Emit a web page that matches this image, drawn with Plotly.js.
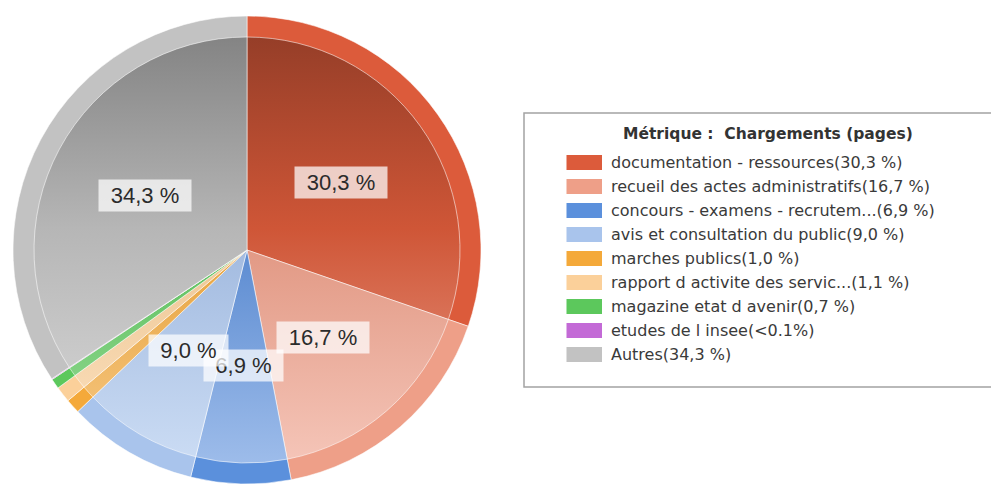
<!DOCTYPE html>
<html>
<head>
<meta charset="utf-8">
<script src="https://cdn.plot.ly/plotly-3.0.1.min.js"></script>
<style>html,body{margin:0;padding:0;background:#fff;overflow:hidden}</style>
</head>
<body>
<div id="chart" style="width:991px;height:484px"></div>
<script>
// ---- data ----
const categories = [
  "documentation - ressources",
  "recueil des actes administratifs",
  "concours - examens - recrutem...",
  "avis et consultation du public",
  "marches publics",
  "rapport d activite des servic...",
  "magazine etat d avenir",
  "etudes de l insee",
  "Autres"
];
const values = [30.3, 16.7, 6.9, 9.0, 1.0, 1.1, 0.7, 0.05, 34.3];
const pctLabels = ["30,3 %", "16,7 %", "6,9 %", "9,0 %", "1,0 %", "1,1 %", "0,7 %", "<0.1%", "34,3 %"];
const colors = ["#dc5b3b", "#ee9f88", "#5b90dc", "#a9c4ec", "#f4a93a", "#fbd09a", "#5cc85c", "#c36ad6", "#c2c2c2"];
const legendTitle = "Métrique :  Chargements (pages)";
const minLabelPct = 5;

// ---- layout constants ----
const W = 991, H = 484;
const CX = 247, CY = 250, R = 234, RIN = 213;

function domainFor(r) {
  return {
    x: [(CX - r) / W, (CX + r) / W],
    y: [(H - CY - r) / H, (H - CY + r) / H]
  };
}
function esc(s) { return s.replace(/</g, "&lt;"); }

const outer = {
  type: "pie", values: values, labels: categories, sort: false,
  direction: "clockwise", rotation: 0, textinfo: "none", hoverinfo: "none",
  marker: { colors: colors, line: { color: "rgba(255,255,255,0.55)", width: 1 } },
  domain: domainFor(R), showlegend: false
};
const inner = {
  type: "pie", values: values, labels: categories, sort: false,
  direction: "clockwise", rotation: 0, textinfo: "none", hoverinfo: "none",
  marker: { colors: colors, line: { color: "rgba(255,255,255,0.55)", width: 1 } },
  domain: domainFor(RIN), showlegend: false
};

// slice labels (from data: angle of each slice midpoint)
const total = values.reduce((a, b) => a + b, 0);
const annotations = [];
let cum = 0;
values.forEach((v, i) => {
  const mid = (cum + v / 2) / total * 2 * Math.PI;
  cum += v;
  if (v / total * 100 < minLabelPct) return;
  const rr = R * 0.495;
  const px = CX + rr * Math.sin(mid);
  const py = CY - rr * Math.cos(mid);
  annotations.push({
    xref: "paper", yref: "paper", x: px / W, y: 1 - py / H,
    xanchor: "center", yanchor: "middle", showarrow: false,
    text: esc(pctLabels[i]),
    font: { family: "Liberation Sans, Arial, sans-serif", size: 22, color: "#2b2b2b" },
    bgcolor: "rgba(255,255,255,0.72)", borderpad: 0,
    width: pctLabels[i].length * 13 + 14, height: 31
  });
});

// legend box (drawn as annotations + shapes built from the data arrays)
const shapes = [{
  type: "rect", xref: "paper", yref: "paper",
  x0: 524 / W, x1: 1.02, y0: 1 - 387 / H, y1: 1 - 113 / H,
  line: { color: "#a3a3a3", width: 1.5 }, fillcolor: "#ffffff", layer: "below"
}];
annotations.push({
  xref: "paper", yref: "paper", x: 768 / W, y: 1 - 134 / H,
  xanchor: "center", yanchor: "middle", showarrow: false,
  text: "<b>" + legendTitle + "</b>",
  font: { family: "DejaVu Sans, sans-serif", size: 15.5, color: "#333" }
});
categories.forEach((c, i) => {
  const yc = 162.5 + 24 * i;
  shapes.push({
    type: "rect", xref: "paper", yref: "paper",
    x0: 566.5 / W, x1: 602 / W, y0: 1 - (yc + 7.5) / H, y1: 1 - (yc - 7.5) / H,
    line: { width: 0 }, fillcolor: colors[i]
  });
  annotations.push({
    xref: "paper", yref: "paper", x: 609 / W, y: 1 - yc / H,
    xanchor: "left", yanchor: "middle", showarrow: false,
    text: esc(c + "(" + pctLabels[i] + ")"),
    font: { family: "DejaVu Sans, sans-serif", size: 16, color: "#3a3a3a" }
  });
});

const layout = {
  width: W, height: H,
  margin: { l: 0, r: 0, t: 0, b: 0 },
  paper_bgcolor: "#ffffff",
  showlegend: false,
  shapes: shapes,
  annotations: annotations
};

function tone(hex, t) {
  const n = parseInt(hex.slice(1), 16);
  let r = n >> 16, g = (n >> 8) & 255, b = n & 255;
  if (t < 0) { r *= 1 + t; g *= 1 + t; b *= 1 + t; }
  else { r += (255 - r) * t; g += (255 - g) * t; b += (255 - b) * t; }
  return "rgb(" + Math.round(r) + "," + Math.round(g) + "," + Math.round(b) + ")";
}

Plotly.newPlot("chart", [outer, inner], layout, { staticPlot: true, displayModeBar: false })
.then(function (gd) {
  const NS = "http://www.w3.org/2000/svg";
  const svg = gd.querySelector("svg.main-svg");
  let defs = svg.querySelector("defs");
  if (!defs) { defs = document.createElementNS(NS, "defs"); svg.insertBefore(defs, svg.firstChild); }
  const traces = gd.querySelectorAll(".pielayer .trace");
  const tr = traces[traces.length - 1];
  const bb = tr.getBBox();
  tr.querySelectorAll("g.slice").forEach(function (s, k) {
    const path = s.querySelector("path.surface");
    if (!path) return;
    const idx = (s.__data__ && s.__data__.i !== undefined) ? s.__data__.i : k;
    const base = colors[idx];
    const id = "sliceGrad" + idx;
    const lg = document.createElementNS(NS, "linearGradient");
    lg.setAttribute("id", id);
    lg.setAttribute("gradientUnits", "userSpaceOnUse");
    lg.setAttribute("x1", bb.x); lg.setAttribute("x2", bb.x);
    lg.setAttribute("y1", bb.y); lg.setAttribute("y2", bb.y + bb.height);
    [[0, tone(base, -0.32)], [0.45, tone(base, -0.06)], [1, tone(base, 0.4)]].forEach(function (st) {
      const stop = document.createElementNS(NS, "stop");
      stop.setAttribute("offset", st[0]);
      stop.setAttribute("stop-color", st[1]);
      lg.appendChild(stop);
    });
    defs.appendChild(lg);
    path.style.fill = "url(#" + id + ")";
  });
});
</script>
</body>
</html>
